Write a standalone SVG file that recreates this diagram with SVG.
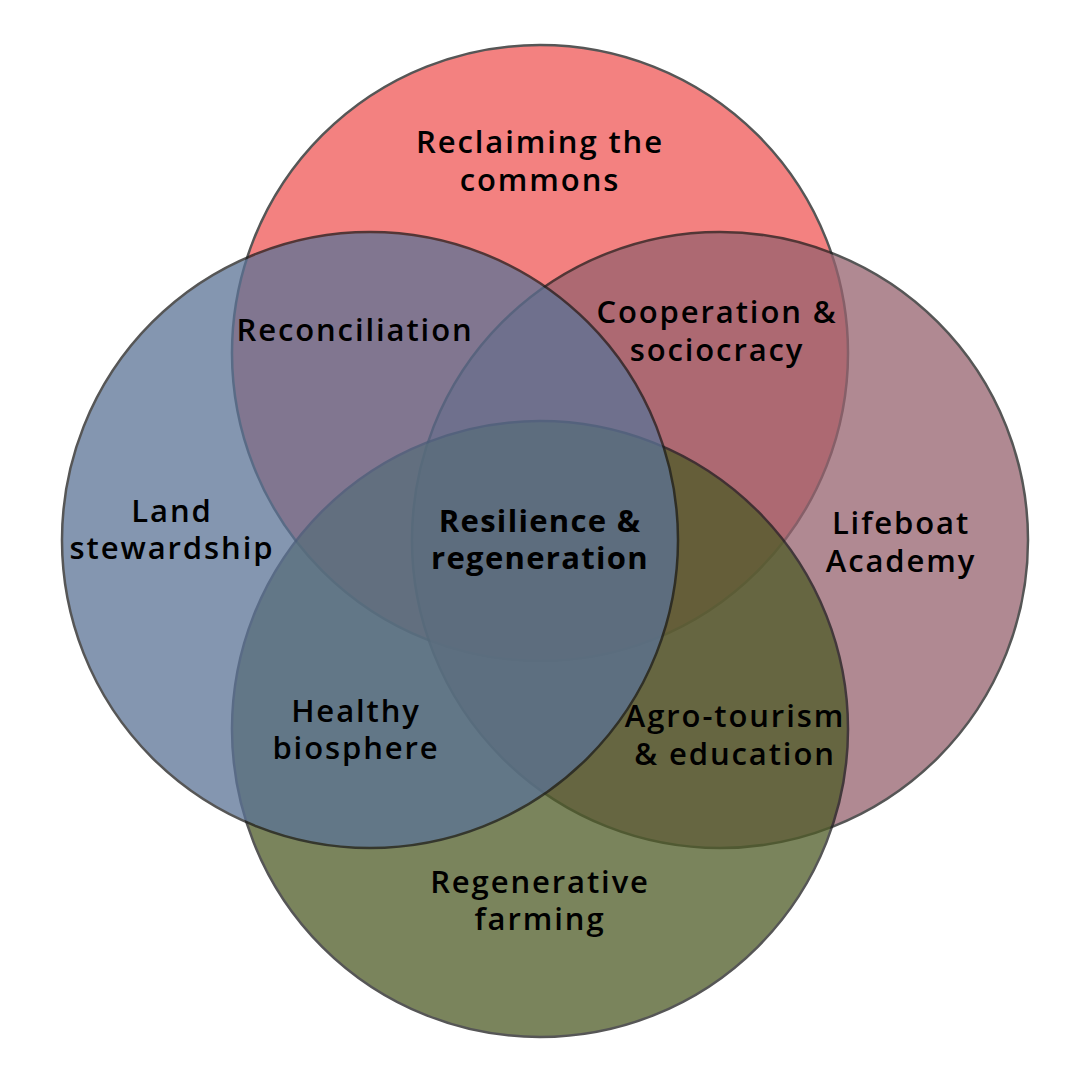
<svg xmlns="http://www.w3.org/2000/svg" width="1080" height="1080" viewBox="0 0 1080 1080">
<style>
.c{stroke:#1e1e1e;stroke-width:2.5;opacity:0.75}
.t{font-family:"Open Sans","Liberation Sans",sans-serif;font-size:31px;font-weight:600;fill:#000;text-anchor:middle;letter-spacing:1.9px}
.b{font-weight:700;letter-spacing:1.3px}
</style>
<rect width="1080" height="1080" fill="#fff"/>
<g id="circle-commons"><circle class="c" cx="540" cy="353" r="308" fill="#EF5756"/></g>
<g id="circle-lifeboat"><circle class="c" cx="720" cy="540" r="308" fill="#96626E"/></g>
<g id="circle-farming"><circle class="c" cx="540" cy="729" r="308" fill="#4E5B26"/></g>
<g id="circle-land"><circle class="c" cx="370" cy="540" r="308" fill="#5B7396"/></g>
<g id="labels">
<g id="reclaiming"><text class="t" x="540" y="153">Reclaiming the</text><text class="t" x="540" y="191">commons</text></g>
<g id="reconciliation"><text class="t" x="355" y="341">Reconciliation</text></g>
<g id="cooperation"><text class="t" x="717" y="323">Cooperation &amp;</text><text class="t" x="717" y="361">sociocracy</text></g>
<g id="land"><text class="t" x="172" y="522">Land</text><text class="t" x="172" y="559">stewardship</text></g>
<g id="resilience"><text class="t b" x="540" y="532">Resilience &amp;</text><text class="t b" x="540" y="569">regeneration</text></g>
<g id="lifeboat"><text class="t" x="901" y="534">Lifeboat</text><text class="t" x="901" y="572">Academy</text></g>
<g id="healthy"><text class="t" x="356" y="722">Healthy</text><text class="t" x="356" y="759">biosphere</text></g>
<g id="agro"><text class="t" x="735" y="727">Agro-tourism</text><text class="t" x="735" y="765">&amp; education</text></g>
<g id="regenerative"><text class="t" x="540" y="893">Regenerative</text><text class="t" x="540" y="930">farming</text></g>
</g>
</svg>
